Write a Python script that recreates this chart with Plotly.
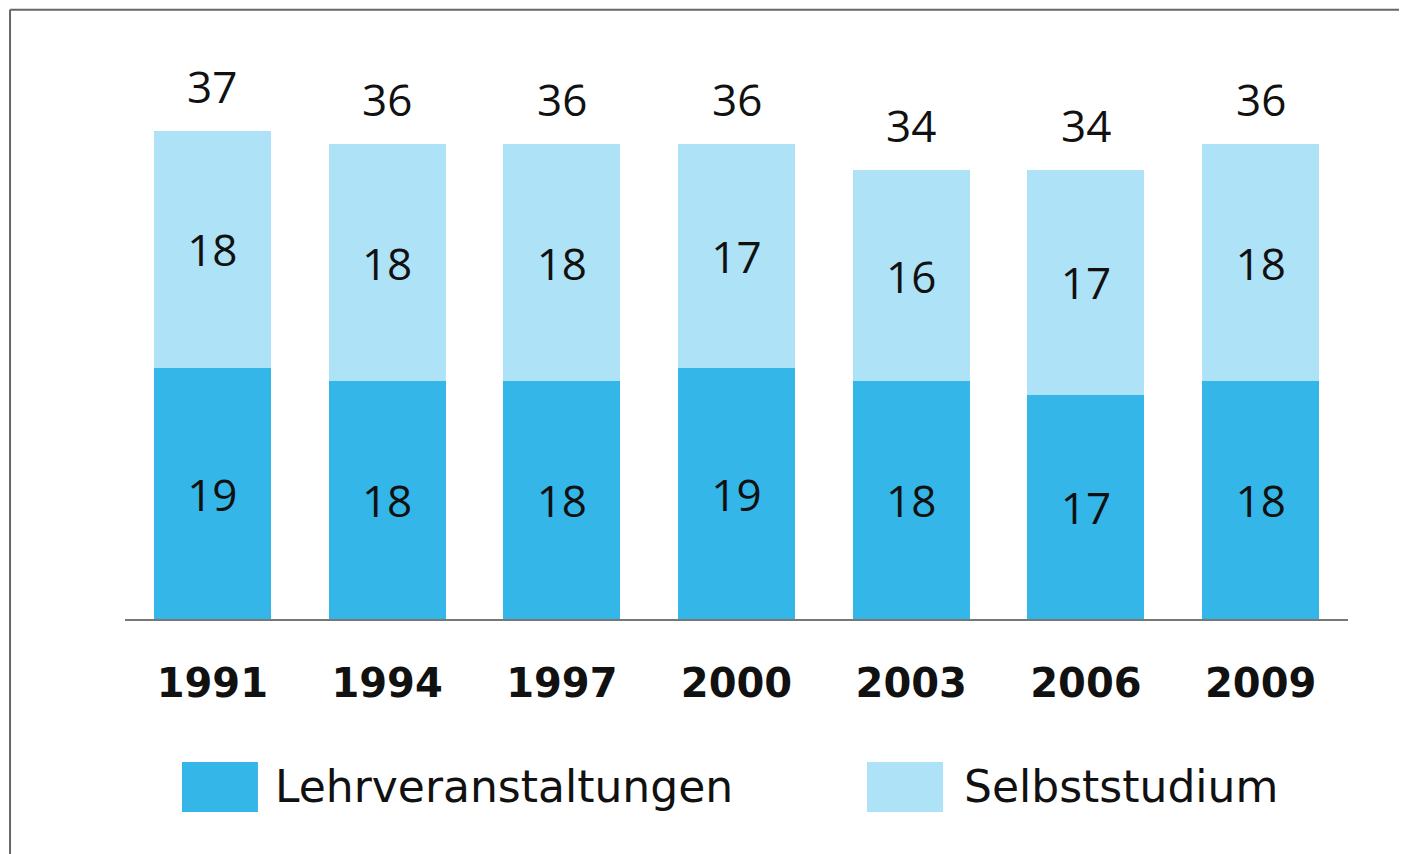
import plotly.graph_objects as go

years = ["1991", "1994", "1997", "2000", "2003", "2006", "2009"]
lehrveranstaltungen = [19, 18, 18, 19, 18, 17, 18]
selbststudium = [18, 18, 18, 17, 16, 17, 18]
totals = [37, 36, 36, 36, 34, 34, 36]

dark = "#34B6E9"
light = "#AEE2F6"
num_font = dict(family="Open Sans", size=44, color="#111111")

xpos = list(range(len(years)))

fig = go.Figure()
fig.add_trace(go.Bar(
    x=xpos, y=lehrveranstaltungen, name="Lehrveranstaltungen",
    marker=dict(color=dark, line=dict(width=0)),
    text=[str(v) for v in lehrveranstaltungen], textposition="inside",
    insidetextanchor="middle", textangle=0, textfont=num_font,
    width=0.67,
))
fig.add_trace(go.Bar(
    x=xpos, y=selbststudium, name="Selbststudium",
    marker=dict(color=light, line=dict(width=0)),
    text=[str(v) for v in selbststudium], textposition="inside",
    insidetextanchor="middle", textangle=0, textfont=num_font,
    width=0.67,
))

for xi, t in zip(xpos, totals):
    fig.add_annotation(x=xi, y=t, xref="x", yref="y", text=str(t), showarrow=False,
                       yanchor="middle", yshift=45, font=num_font)

# custom legend
legend_items = [("Lehrveranstaltungen", dark, 0.0466, 0.1087, 0.121),
                ("Selbststudium", light, 0.6067, 0.6689, 0.6844)]
for name, col, x0, x1, xt in legend_items:
    fig.add_shape(type="rect", xref="paper", yref="paper", x0=x0, x1=x1,
                  y0=-0.3655, y1=-0.2708, fillcolor=col, line=dict(width=0))
    fig.add_annotation(xref="paper", yref="paper", x=xt, y=-0.318, text=name,
                       showarrow=False, xanchor="left", yanchor="middle",
                       font=dict(family="DejaVu Sans", size=44, color="#111111"))

# outer frame (left and top edges only visible in the original crop)
fig.add_shape(type="line", xref="paper", yref="paper", x0=-0.094, x1=-0.094,
              y0=-0.6, y1=1.154, line=dict(color="#666666", width=2), layer="above")
fig.add_shape(type="line", xref="paper", yref="paper", x0=-0.094, x1=1.2,
              y0=1.154, y1=1.154, line=dict(color="#666666", width=2), layer="above")

fig.update_layout(
    barmode="stack",
    width=1399, height=846,
    margin=dict(l=117, r=59, t=83, b=235),
    plot_bgcolor="white", paper_bgcolor="white",
    showlegend=False,
    uniformtext=dict(mode=False),
    xaxis=dict(range=[-0.5, len(years) - 0.5], tickmode="array",
               tickvals=xpos, ticktext=years,
               showline=True, linecolor="#777777", linewidth=2,
               showgrid=False, zeroline=False, ticks="", ticklabelstandoff=28,
               tickfont=dict(family="DejaVu Sans", size=40, color="#111111", weight="bold")),
    yaxis=dict(range=[0, 40], visible=False),
)

fig.write_html("out.html", config={"displayModeBar": False})
